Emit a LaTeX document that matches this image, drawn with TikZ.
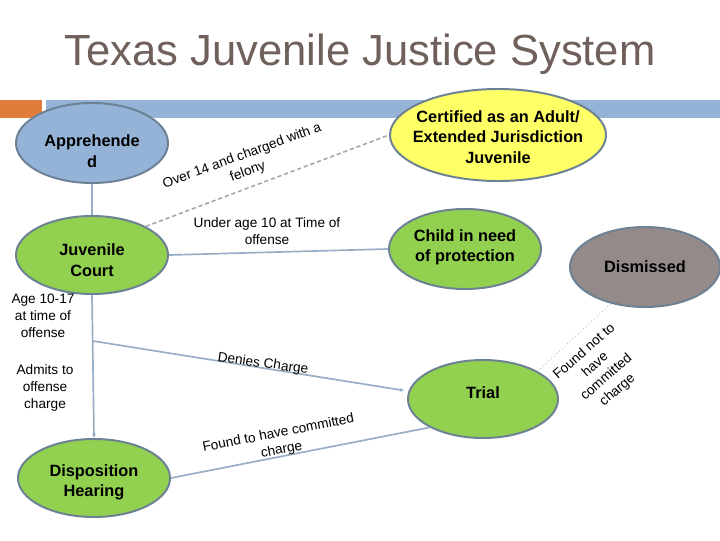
\documentclass[tikz,border=0pt]{standalone}
\usepackage{fontspec}
\setmainfont{Liberation Sans}
\usetikzlibrary{shapes.geometric,arrows.meta}
\definecolor{titlegray}{HTML}{6F605B}
\definecolor{barorange}{HTML}{E07C3C}
\definecolor{barblue}{HTML}{95B3D7}
\definecolor{edgegray}{HTML}{6C8294}
\definecolor{linkblue}{HTML}{98AEC6}
\definecolor{stagegreen}{HTML}{92D050}
\definecolor{stageyellow}{HTML}{FFFF66}
\definecolor{stagegray}{HTML}{948A8A}
\begin{document}
\begin{tikzpicture}[x=0.025cm,y=-0.025cm,line join=round,
	stage/.style={ellipse,draw=edgegray,line width=1.4pt,inner sep=0pt,minimum width=3.8cm,minimum height=1.95cm},
	stagetext/.style={align=center,inner sep=0pt,font=\fontsize{11.6}{14.5}\selectfont\bfseries},
	link/.style={draw=linkblue,line width=1.2pt},
	note/.style={align=center,font=\fontsize{9.7}{12}\selectfont}]
	\useasboundingbox (0,0) rectangle (720,540);
	\node[anchor=base,text=titlegray,font=\fontsize{31}{36}\selectfont] (title) at (360,65) {Texas Juvenile Justice System};
	\fill[barorange] (0,100) rectangle (42,118);
	\fill[barblue] (46,100) rectangle (720,118);
	% stages
	\node[stage,fill=barblue,minimum height=2cm,label={[stagetext,yshift=-0.2cm]center:Apprehende\\d}] (appr) at (92,143) {};
	\node[stage,fill=stagegreen,label={[stagetext,yshift=-0.13cm]center:Juvenile\\Court}] (court) at (92,255) {};
	\node[stage,fill=stagegreen,label={[stagetext,yshift=-0.1cm]center:Disposition\\Hearing}] (disp) at (94,478) {};
	\node[stage,fill=stageyellow,minimum width=5.4cm,minimum height=2.3cm,label={[stagetext,yshift=-0.05cm]center:Certified as an Adult/\\Extended Jurisdiction\\Juvenile}] (cert) at (498,135) {};
	\node[stage,fill=stagegreen,minimum height=2cm,label={[stagetext,yshift=0.05cm]center:Child in need\\of protection}] (child) at (465,249) {};
	\node[stage,fill=stagegreen,minimum width=3.75cm,label={[stagetext,yshift=0.17cm]center:Trial}] (trial) at (483,399) {};
	\node[stage,fill=stagegray,minimum width=3.75cm,minimum height=2cm,label={[stagetext]center:Dismissed}] (dism) at (645,267) {};
	% links
	\draw[link] (appr.south)--(court.north);
	\draw[link,-{Latex[length=3pt,width=3pt]}] (court.south)--(disp.north);
	\coordinate (split) at (93,341);
	\draw[link,shorten >=3pt,-{Latex[length=3pt,width=3pt]}] (split)--(trial.174);
	\draw[link] (disp.east)--(trial.208);
	\draw[link] (court.east)--(child.west);
	\draw[draw=gray!70,line width=1.1pt,densely dashed] (court.28)--(cert.west);
	\draw[draw=gray!60,line width=0.6pt,dotted] (trial.27)--(dism.227);
	% labels
	\node[note,rotate=20] at (245,164) {Over 14 and charged with a\\felony};
	\node[note] at (267,231) {Under age 10 at Time of\\offense};
	\node[note] at (43,316) {Age 10-17\\at time of\\offense};
	\node[note] at (45,388) {Admits to\\offense\\charge};
	\node[note,rotate=-8] at (263,364) {Denies Charge};
	\node[note,rotate=11] at (280,442) {Found to have committed\\charge};
	\node[note,rotate=41] at (601,371) {Found not to\\have\\committed\\charge};
\end{tikzpicture}
\end{document}
